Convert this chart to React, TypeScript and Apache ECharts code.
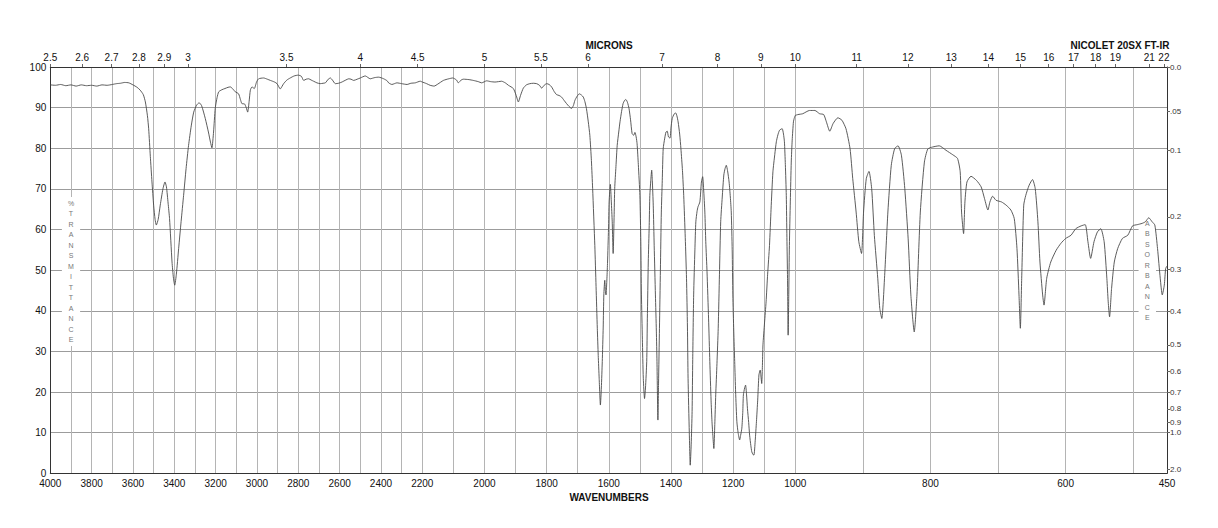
import React, { useEffect, useRef } from "react";
import * as echarts from "echarts";

type Pt = [number, number];

// Spectrum: [wavenumber (cm-1), % transmittance]
const spectrumHigh: Pt[] = [
  [4000, 95.6], [3975, 95.5], [3950, 95.7], [3925, 95.4], [3900, 95.6], [3875, 95.3], [3850, 95.6], [3825, 95.4],
  [3800, 95.5], [3775, 95.3], [3750, 95.6], [3725, 95.5], [3700, 95.7], [3680, 95.9], [3660, 96.0], [3640, 96.2],
  [3620, 96.1], [3600, 95.6], [3580, 95.0], [3565, 94.3], [3550, 93.2], [3540, 91.4], [3530, 88], [3524, 84.8],
  [3516, 78], [3508, 71.7], [3500, 66], [3493, 62.5], [3487, 61.1], [3478, 62.5], [3468, 66], [3455, 70],
  [3445, 71.7], [3438, 70.5], [3430, 66.5], [3423, 62.7], [3411, 52], [3404, 48], [3398, 46.3], [3390, 49],
  [3379, 55.3], [3367, 62], [3355, 68.4], [3343, 75], [3331, 80.7], [3318, 85.5], [3306, 88.9], [3292, 90.6],
  [3280, 91.2], [3268, 90.5], [3250, 87.3], [3235, 84], [3225, 81.5], [3218, 80.1], [3210, 84], [3202, 89.8],
  [3193, 92.5], [3185, 93.9], [3170, 94.4], [3155, 94.7], [3140, 95.0], [3129, 95.1], [3115, 94.5], [3105, 93.9],
  [3089, 93.4], [3080, 92], [3073, 91], [3060, 90.9], [3052, 90], [3045, 88.9], [3038, 91.5], [3032, 94.3],
  [3024, 95.1], [3013, 94.7], [3002, 96.3], [2992, 97.1], [2968, 97.3], [2950, 97], [2935, 96.7], [2915, 96.3],
  [2903, 95.9], [2887, 94.6], [2878, 95.3], [2871, 95.9], [2855, 96.8], [2839, 97.3], [2820, 97.8], [2800, 98],
  [2785, 97.7], [2774, 96.7], [2762, 97], [2750, 97.1], [2738, 96.8], [2726, 96.5], [2710, 96.1], [2694, 95.9],
  [2680, 96], [2669, 96.1], [2655, 97.0], [2645, 97.3], [2635, 96.8], [2621, 95.9], [2605, 96], [2589, 96.3],
  [2570, 96.8], [2556, 97.1], [2545, 97.0], [2532, 96.7], [2515, 97.0], [2500, 97.3], [2476, 97.8], [2452, 97.1],
  [2430, 97.4], [2411, 97.5], [2387, 97.1], [2370, 96.6], [2363, 96.1], [2347, 95.7], [2335, 95.9], [2323, 96.1],
  [2300, 95.9], [2274, 95.7], [2255, 96], [2234, 96.1], [2210, 96.5], [2200, 96.3],
];

const spectrumMid: Pt[] = [
  [2200, 96.3], [2186, 95.9], [2175, 95.5], [2162, 95.3], [2150, 95.8], [2132, 96.7], [2115, 97.1], [2102, 97.3],
  [2090, 96.8], [2084, 96.1], [2075, 96.8], [2068, 97], [2050, 96.9], [2036, 96.7], [2020, 96.4], [2009, 96.1],
  [1993, 96.6], [1980, 96.4], [1966, 96.3], [1955, 96.4], [1945, 96.5], [1933, 96.1], [1923, 95.5], [1907, 94.7],
  [1898, 93], [1891, 91.4], [1884, 93], [1875, 94.8], [1865, 95.6], [1854, 95.9], [1843, 96], [1832, 95.9],
  [1823, 95.5], [1816, 94.8], [1808, 95.5], [1800, 95.9], [1792, 95.7], [1784, 95.1], [1776, 94], [1768, 93.2],
  [1760, 93], [1752, 92.6], [1744, 91.8], [1736, 91], [1728, 90.3], [1720, 89.8], [1714, 90.5], [1709, 91.8],
  [1702, 92.8], [1695, 93.4], [1688, 93.1], [1682, 92.6], [1677, 91.5], [1672, 89.8], [1666, 86.5], [1661, 83.2],
  [1656, 77], [1652, 70.1], [1645, 56.1], [1641, 46], [1637, 35.7], [1634, 29], [1631, 23.4], [1627, 16.8],
  [1624, 21], [1621, 27.5], [1618, 36], [1616, 43.9], [1613, 47.5], [1611, 45], [1609, 43.9], [1606, 48],
  [1604, 52], [1601, 60], [1599, 66.8], [1595, 71.1], [1592, 67], [1589, 61.9], [1586, 54.1], [1583, 63],
  [1581, 70.1], [1577, 75.5], [1573, 80.7], [1568, 84], [1564, 86.5], [1559, 89], [1554, 91], [1549, 91.8],
  [1545, 92], [1540, 91.3], [1535, 89.8], [1530, 87], [1525, 83.6], [1520, 83.2], [1516, 83.9], [1512, 82.8],
  [1509, 81.1], [1505, 76], [1500, 68.4], [1497, 57], [1495, 43.9], [1492, 33], [1489, 23.4], [1485, 18.4],
  [1482, 21], [1478, 27.5], [1476, 38], [1473, 52], [1470, 61], [1468, 68.4], [1465, 72], [1462, 74.6],
  [1460, 72], [1457, 66], [1454, 56], [1450, 43.9], [1447, 35], [1445, 27.5], [1442, 13.1], [1440, 22],
  [1437, 35.7], [1434, 50], [1431, 64.3], [1428, 72], [1425, 79.9], [1420, 82.5], [1416, 84], [1412, 84.2],
  [1408, 82.8], [1403, 82.5], [1400, 85], [1396, 87.3], [1390, 88.4], [1385, 88.7], [1381, 88], [1377, 86.5],
  [1372, 83.5], [1368, 79.9], [1363, 74.5], [1359, 68.4], [1354, 58], [1350, 48], [1347, 36], [1345, 23.4],
  [1341, 10], [1338, 2], [1335, 7], [1332, 15.2], [1330, 28], [1327, 43.9], [1323, 55], [1320, 61.9],
  [1316, 64.5], [1313, 65.6], [1307, 66.8], [1302, 71.7], [1298, 73], [1295, 70], [1291, 64.3], [1288, 57],
  [1284, 49.6], [1279, 38], [1275, 27.5], [1271, 18], [1268, 12.7], [1265, 9], [1262, 6.1], [1259, 12],
  [1256, 19.3], [1252, 27], [1248, 35.7], [1244, 49], [1240, 61.9], [1235, 68], [1230, 73.4], [1226, 75],
  [1222, 75.8], [1218, 74.5], [1213, 71.7], [1209, 68], [1206, 64.3], [1203, 55], [1201, 43.9], [1198, 35],
  [1195, 27.5], [1192, 20], [1188, 12.7], [1184, 10], [1179, 8.2], [1176, 9.3], [1172, 11.1], [1169, 15],
  [1167, 19.3], [1163, 21], [1160, 21.7], [1157, 19.5], [1154, 16], [1150, 12.5], [1147, 9.4], [1143, 6.8],
  [1140, 5.3], [1136, 4.6], [1133, 4.5], [1129, 8], [1125, 12.7], [1121, 18], [1117, 24.2], [1113, 25.4],
  [1110, 23.5], [1108, 22.1], [1106, 26], [1104, 31.6], [1099, 37], [1094, 42.2], [1089, 49], [1083, 56.1],
  [1078, 65], [1072, 74.2], [1066, 78.5], [1061, 81.6], [1056, 83.3], [1051, 84.4], [1046, 84.7], [1042, 84.8],
  [1038, 83.5], [1035, 81.6], [1032, 76], [1029, 68.4], [1027, 58], [1025, 48], [1023, 34], [1021, 44],
  [1019, 56.1], [1016, 67], [1013, 76.6], [1010, 82], [1006, 86.5], [1003, 87.5], [1000, 88.1],
];

const spectrumLow: Pt[] = [
  [1000, 88.1], [996, 88.3], [989, 88.5], [979, 89.3], [971, 89.3], [964, 88.5], [958, 88.3], [954, 86.5],
  [949, 84.2], [944, 86.1], [937, 87.5], [931, 86.9], [925, 84.8], [919, 79.9], [915, 72.5], [910, 64.3],
  [906, 57], [902, 54.1], [899, 64.3], [895, 72.5], [891, 74.3], [887, 70.1], [883, 58.5], [878, 48],
  [875, 40.6], [872, 38.1], [868, 48], [863, 64.3], [858, 75.8], [853, 79.9], [848, 80.6], [843, 78.3],
  [838, 70.1], [833, 57.7], [829, 43.9], [824, 34.8], [820, 43.9], [815, 64.3], [809, 76.6], [804, 79.8],
  [797, 80.3], [787, 80.6], [777, 79.5], [767, 78.4], [760, 77.5], [756, 74.2], [754, 64.3], [751, 59],
  [749, 66.8], [746, 71.7], [740, 73.1], [732, 72.1], [725, 70.5], [720, 67.6], [715, 64.8], [712, 66.8],
  [708, 68.2], [703, 67.2], [695, 66.8], [688, 66], [681, 64.8], [676, 62.7], [672, 55.3], [669, 43.9],
  [667, 35.7], [665, 48], [662, 66], [659, 68.4], [654, 70.9], [649, 72.3], [645, 70.1], [641, 61.9],
  [638, 52], [634, 43.9], [632, 41.4], [628, 48], [622, 52], [614, 54.9], [607, 56.6], [600, 57.8],
  [592, 58.6], [585, 60.2], [577, 60.9], [571, 61.2], [567, 57], [563, 52.9], [558, 57], [553, 59.4],
  [548, 60.2], [543, 57], [539, 48], [537, 42.2], [535, 38.5], [532, 45.5], [528, 52], [523, 55.3],
  [516, 57.8], [508, 58.6], [501, 60.9], [494, 61.2], [487, 61.5], [482, 61.9], [477, 62.9], [472, 61.9],
  [468, 61.1], [464, 55.3], [460, 48], [457, 43.9], [454, 46.3], [452, 50.4], [450, 51],
];

// Axis values
const gridWavenumbersHigh = [3900, 3800, 3700, 3600, 3500, 3400, 3300, 3200, 3100, 3000, 2900, 2800, 2700, 2600, 2500, 2400, 2300, 2200];
const gridWavenumbersMid = [2100, 2000, 1900, 1800, 1700, 1600, 1500, 1400, 1300, 1200, 1100, 1000];
const gridWavenumbersLow = [900, 800, 700, 600, 500];

const wavenumberLabelsHigh = [4000, 3800, 3600, 3400, 3200, 3000, 2800, 2600, 2400, 2200];
const wavenumberLabelsMid = [2000, 1800, 1600, 1400, 1200, 1000];
const wavenumberLabelsLow = [800, 600, 450];

const micronLabels = [2.5, 2.6, 2.7, 2.8, 2.9, 3, 3.5, 4, 4.5, 5, 5.5, 6, 7, 8, 9, 10, 11, 12, 13, 14, 15, 16, 17, 18, 19, 21, 22];

const transmittanceTicks = [0, 10, 20, 30, 40, 50, 60, 70, 80, 90, 100];
const absorbanceValues = [0, 0.05, 0.1, 0.2, 0.3, 0.4, 0.5, 0.6, 0.7, 0.8, 0.9, 1.0, 2.0];
const absorbanceLabels = ["0.0", ".05", "0.1", "0.2", "0.3", "0.4", "0.5", "0.6", "0.7", "0.8", "0.9", "1.0", "2.0"];

const FONT = "'Liberation Sans', Arial, Helvetica, sans-serif";

export default function App() {
  const ref = useRef<HTMLDivElement>(null);

  useEffect(() => {
    if (!ref.current) return;
    const chart = echarts.init(ref.current, undefined, { renderer: "svg" });

    const TOP = 67;
    const HEIGHT = 406.3;
    const segments = [
      { hi: 4000, lo: 2200, left: 50.3, width: 372, data: spectrumHigh, grid: gridWavenumbersHigh, labels: wavenumberLabelsHigh },
      { hi: 2200, lo: 1000, left: 422.3, width: 373, data: spectrumMid, grid: gridWavenumbersMid, labels: wavenumberLabelsMid },
      { hi: 1000, lo: 450, left: 795.3, width: 371.7, data: spectrumLow, grid: gridWavenumbersLow, labels: wavenumberLabelsLow },
    ];

    const micronWn = micronLabels.map((m) => 10000 / m);
    const used = new Set<number>();
    const micronBySeg = segments.map((s) =>
      micronWn.filter((w, i) => {
        if (used.has(i)) return false;
        if (w <= s.hi + 1e-6 && w >= s.lo - 1e-6) {
          used.add(i);
          return true;
        }
        return false;
      })
    );

    const absorbanceT = absorbanceValues.map((a) => 100 * Math.pow(10, -a));

    const axisLineStyle = { color: "#333", width: 1 };
    const labelStyle = { fontSize: 10, color: "#111", fontFamily: FONT };

    const grids = segments.map((s) => ({ left: s.left, top: TOP, width: s.width, height: HEIGHT, containLabel: false }));

    const xBottom = segments.map((s, i) => ({
      type: "value",
      gridIndex: i,
      position: "bottom",
      inverse: true,
      min: s.lo,
      max: s.hi,
      axisLine: { show: true, onZero: false, lineStyle: axisLineStyle },
      axisTick: { show: false, customValues: s.grid },
      splitLine: { show: true, lineStyle: { color: "#b4b4b4", width: 1 } },
      axisLabel: { ...labelStyle, margin: 5, customValues: s.labels, formatter: (v: number) => String(v) },
    }));

    const xTop = segments.map((s, i) => ({
      type: "value",
      gridIndex: i,
      position: "top",
      inverse: true,
      min: s.lo,
      max: s.hi,
      axisLine: { show: true, onZero: false, lineStyle: axisLineStyle },
      axisTick: { show: true, inside: false, length: 3, customValues: micronBySeg[i], lineStyle: { color: "#666" } },
      splitLine: { show: false },
      axisLabel: {
        ...labelStyle,
        margin: 5,
        customValues: micronBySeg[i],
        formatter: (v: number) => String(Number((10000 / v).toFixed(1))),
      },
    }));

    const yAxes: any[] = segments.map((s, i) => ({
      type: "value",
      gridIndex: i,
      position: "left",
      min: 0,
      max: 100,
      interval: 10,
      axisLine: { show: i === 0, lineStyle: axisLineStyle },
      axisTick: { show: false },
      splitLine: { show: true, lineStyle: { color: "#9c9c9c", width: 1 } },
      axisLabel: { show: i === 0, ...labelStyle, margin: 4, customValues: transmittanceTicks },
    }));

    yAxes.push({
      type: "value",
      gridIndex: 2,
      position: "right",
      min: 0,
      max: 100,
      axisLine: { show: true, lineStyle: axisLineStyle },
      axisTick: { show: true, inside: false, length: 3, customValues: absorbanceT, lineStyle: { color: "#666" } },
      splitLine: { show: false },
      axisLabel: {
        fontSize: 8,
        color: "#333",
        fontFamily: FONT,
        margin: 3,
        customValues: absorbanceT,
        formatter: (v: number) => {
          const idx = absorbanceT.findIndex((t) => Math.abs(t - v) < 1e-3);
          return idx >= 0 ? absorbanceLabels[idx] : "";
        },
      },
    });

    const series = segments.map((s, i) => ({
      type: "line",
      xAxisIndex: i,
      yAxisIndex: i,
      data: s.data,
      showSymbol: false,
      smooth: 0.2,
      clip: true,
      lineStyle: { color: "#4a4a4a", width: 0.9 },
      z: 3,
    }));

    const verticalText = (text: string, x: number, y: number) => ({
      type: "text",
      x,
      y,
      z: 1,
      silent: true,
      style: {
        text: text.split("").join("\n"),
        align: "center",
        verticalAlign: "top",
        fontSize: 7,
        lineHeight: 10.5,
        fontFamily: FONT,
        fill: "#777",
        backgroundColor: "#fff",
        padding: [1, 6, 1, 6],
      },
    });

    chart.setOption({
      animation: false,
      backgroundColor: "#fff",
      textStyle: { fontFamily: FONT },
      grid: grids,
      xAxis: [...xBottom, ...xTop],
      yAxis: yAxes,
      series,
      graphic: [
        {
          type: "text",
          x: 609,
          y: 45,
          style: { text: "MICRONS", align: "center", verticalAlign: "middle", fontSize: 10, fontWeight: "bold", fill: "#111", fontFamily: FONT },
        },
        {
          type: "text",
          x: 1120,
          y: 45,
          style: { text: "NICOLET 20SX FT-IR", align: "center", verticalAlign: "middle", fontSize: 10, fontWeight: "bold", fill: "#111", fontFamily: FONT },
        },
        {
          type: "text",
          x: 609,
          y: 497,
          style: { text: "WAVENUMBERS", align: "center", verticalAlign: "middle", fontSize: 10, fontWeight: "bold", fill: "#111", fontFamily: FONT },
        },
        verticalText("%TRANSMITTANCE", 71, 197),
        verticalText("ABSORBANCE", 1147.3, 217),
      ],
    });

    return () => chart.dispose();
  }, []);

  return (
    <div
      ref={ref}
      style={{ position: "absolute", left: 0, top: 0, width: 1218, height: 528, background: "#fff" }}
    />
  );
}
